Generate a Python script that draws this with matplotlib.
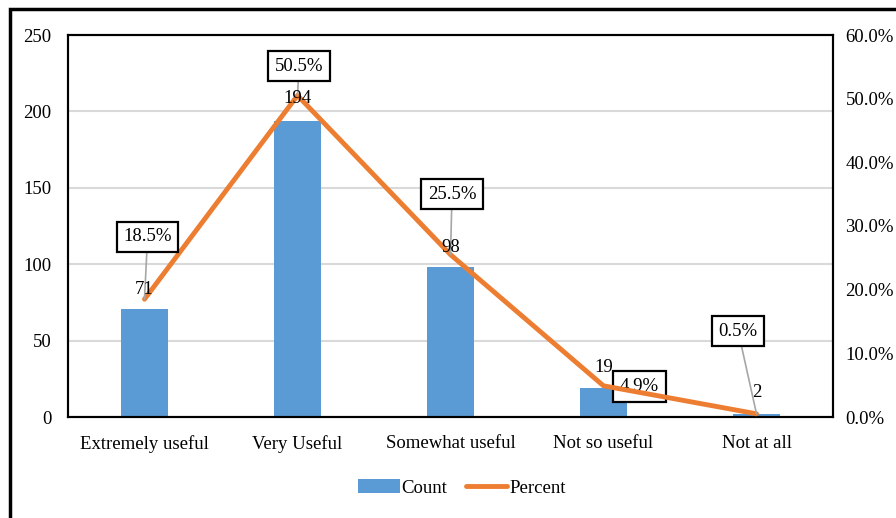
import matplotlib
matplotlib.use('Agg')
import matplotlib.pyplot as plt
from matplotlib.patches import Rectangle
from matplotlib.ticker import FuncFormatter

# данные
categories = ['Extremely useful', 'Very Useful', 'Somewhat useful', 'Not so useful', 'Not at all']
counts = [71, 194, 98, 19, 2]
percents = [18.5, 50.5, 25.5, 4.9, 0.5]

# положение подписей (смещение по x в категориях, высота в %)
pct_label_pos = [(0.02, 28.3), (0.01, 55.1), (0.01, 35.0), (0.235, 4.8), (-0.12, 13.5)]
pct_label_z = [5, 5, 5, 2, 5]
cnt_label_pos = [(0.0, 83.5), (0.0, 208.5), (0.0, 111.0), (0.0, 32.5), (0.0, 16.0)]

plt.rcParams['font.family'] = ['Liberation Serif', 'DejaVu Serif']
plt.rcParams['font.size'] = 13.5

fig = plt.figure(figsize=(8.96, 5.18), dpi=100)
ax1 = fig.add_axes([68 / 896, 1 - 417 / 518, (833 - 68) / 896, (417 - 35) / 518])
ax2 = ax1.twinx()

x = list(range(len(categories)))
ax1.bar(x, counts, width=0.31, color='#5B9BD5', label='Count', zorder=2)
ax2.plot(x, percents, color='#ED7D31', linewidth=3.5, label='Percent', solid_capstyle='round', zorder=3)

ax1.set_xlim(-0.5, len(categories) - 0.5)
ax1.set_ylim(0, 250)
ax1.set_yticks(range(0, 251, 50))
ax2.set_ylim(0, 60)
ax2.set_yticks(range(0, 61, 10))
ax2.yaxis.set_major_formatter(FuncFormatter(lambda v, p: f'{v:.1f}%'))

ax1.set_xticks(x)
ax1.set_xticklabels(categories)
ax1.tick_params(axis='x', length=0, pad=13)
ax1.tick_params(axis='y', length=0, pad=12)
ax2.tick_params(axis='y', length=0, pad=9)

ax1.grid(axis='y', color='#D9D9D9', linewidth=1.5, zorder=0)
ax1.set_axisbelow(True)
for ax in (ax1, ax2):
    for s in ax.spines.values():
        s.set_linewidth(1.5)
        s.set_color('black')

# подписи процентов в рамках
for i, p in enumerate(percents):
    dx, ty = pct_label_pos[i]
    ax2.annotate(f'{p:.1f}%', xy=(i, p), xytext=(i + dx, ty),
                 ha='center', va='center', zorder=pct_label_z[i],
                 bbox=dict(boxstyle='square,pad=0.35', fc='white', ec='black', lw=1.6),
                 arrowprops=dict(arrowstyle='-', color='#A6A6A6', lw=1.2, shrinkA=0, shrinkB=0))

# подписи количества
for i, c in enumerate(counts):
    dx, ty = cnt_label_pos[i]
    ax2.text(i + dx, ty, str(c), transform=ax1.transData, ha='center', va='center', zorder=6)

# легенда
h1, l1 = ax1.get_legend_handles_labels()
h2, l2 = ax2.get_legend_handles_labels()
fig.legend(h1 + h2, l1 + l2, loc='center', bbox_to_anchor=(462 / 896, 1 - 488 / 518),
           ncol=2, frameon=False, handlelength=2.2, handletextpad=0.1, columnspacing=1.0)

# рамка вокруг рисунка
fig.patches.append(Rectangle((10 / 896, -0.1), 1.2, 1.1 - 9 / 518, transform=fig.transFigure,
                             fill=False, ec='black', lw=2.5, clip_on=False))

fig.savefig('out.png', dpi=100)
